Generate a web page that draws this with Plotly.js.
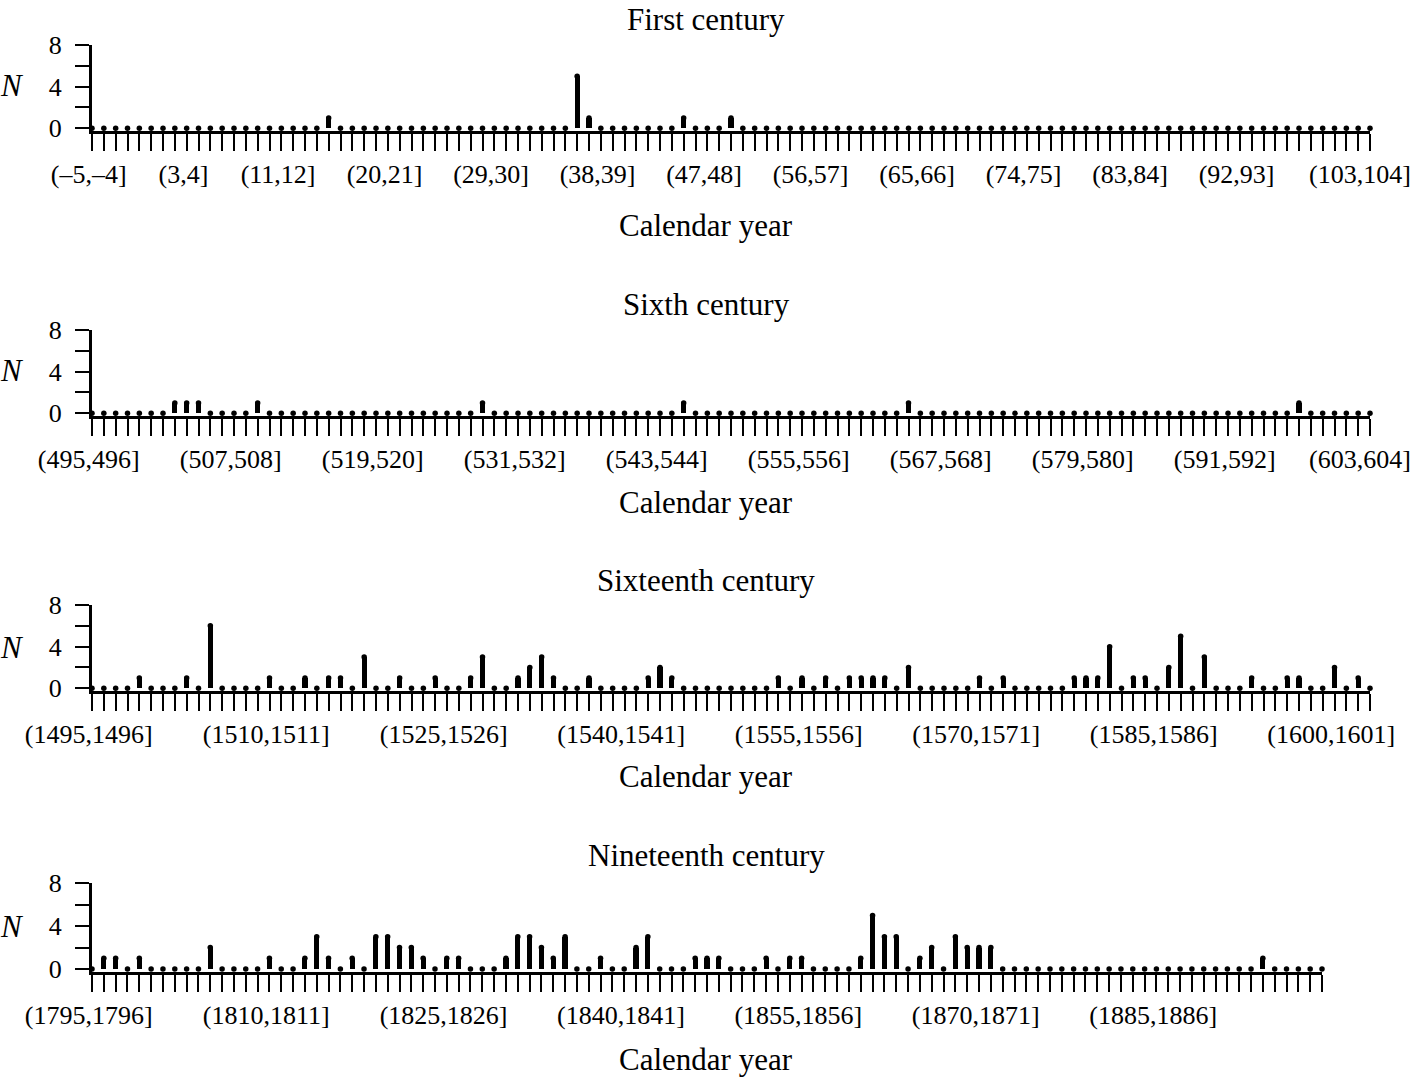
<!DOCTYPE html>
<html><head><meta charset="utf-8">
<script src="https://cdn.plot.ly/plotly-3.0.1.min.js"></script>
<style>html,body{margin:0;padding:0;background:#fff;} #chart{width:1417px;height:1078px;}</style>
</head><body><div id="chart"></div>
<script>
// ---------------- data ----------------
const panelTitles = ['First century', 'Sixth century', 'Sixteenth century', 'Nineteenth century'];
const firstYears = [-5, 495, 1495, 1795];

// counts N per calendar year interval (y, y+1], starting at firstYears[i]
const countsFirst = [
  0,0,0,0,0,0,0,0,0,0,
  0,0,0,0,0,0,0,0,0,0,
  1,0,0,0,0,0,0,0,0,0,
  0,0,0,0,0,0,0,0,0,0,
  0,5,1,0,0,0,0,0,0,0,
  1,0,0,0,1,0,0,0,0,0,
  0,0,0,0,0,0,0,0,0,0,
  0,0,0,0,0,0,0,0,0,0,
  0,0,0,0,0,0,0,0,0,0,
  0,0,0,0,0,0,0,0,0,0,
  0,0,0,0,0,0,0,0,0
];
const countsSixth = [
  0,0,0,0,0,0,0,1,1,1,
  0,0,0,0,1,0,0,0,0,0,
  0,0,0,0,0,0,0,0,0,0,
  0,0,0,1,0,0,0,0,0,0,
  0,0,0,0,0,0,0,0,0,0,
  1,0,0,0,0,0,0,0,0,0,
  0,0,0,0,0,0,0,0,0,1,
  0,0,0,0,0,0,0,0,0,0,
  0,0,0,0,0,0,0,0,0,0,
  0,0,0,0,0,0,0,0,0,0,
  0,0,1,0,0,0,0,0,0
];
const countsSixteenth = [
  0,0,0,0,1,0,0,0,1,0,
  6,0,0,0,0,1,0,0,1,0,
  1,1,0,3,0,0,1,0,0,1,
  0,0,1,3,0,0,1,2,3,1,
  0,0,1,0,0,0,0,1,2,1,
  0,0,0,0,0,0,0,0,1,0,
  1,0,1,0,1,1,1,1,0,2,
  0,0,0,0,0,1,0,1,0,0,
  0,0,0,1,1,1,4,0,1,1,
  0,2,5,0,3,0,0,0,1,0,
  0,1,1,0,0,2,0,1,0
];
const countsNineteenth = [
  0,1,1,0,1,0,0,0,0,0,
  2,0,0,0,0,1,0,0,1,3,
  1,0,1,0,3,3,2,2,1,0,
  1,1,0,0,0,1,3,3,2,1,
  3,0,0,1,0,0,2,3,0,0,
  0,1,1,1,0,0,0,1,0,1,
  1,0,0,0,0,1,5,3,3,0,
  1,2,0,3,2,2,2,0,0,0,
  0,0,0,0,0,0,0,0,0,0,
  0,0,0,0,0,0,0,0,0,1,
  0,0,0,0,0
];
const seriesCounts = [countsFirst, countsSixth, countsSixteenth, countsNineteenth];

// labelled tick positions (interval start years)
const labelsFirst = [-5, 3, 11, 20, 29, 38, 47, 56, 65, 74, 83, 92, 103];
const labelsSixth = [495, 507, 519, 531, 543, 555, 567, 579, 591, 603];
const labelsSixteenth = [1495, 1510, 1525, 1540, 1555, 1570, 1585, 1600];
const labelsNineteenth = [1795, 1810, 1825, 1840, 1855, 1870, 1885];
const seriesLabels = [labelsFirst, labelsSixth, labelsSixteenth, labelsNineteenth];

const yTickVals = [0, 2, 4, 6, 8];
const yTickText = ['0', '', '4', '', '8'];
const xAxisTitle = 'Calendar year';
const yAxisTitle = 'N';

// ---------------- layout geometry (pixels) ----------------
const W = 1417, H = 1078;
const plotLeft = 92;
const boxes = [
  {top: 45,    zero: 128.3, right: 1370, title: 20,  xlab: 225,  n: 86},
  {top: 330,   zero: 413.3, right: 1370, title: 304, xlab: 503,  n: 370},
  {top: 605,   zero: 688.3, right: 1370, title: 580, xlab: 776,  n: 647},
  {top: 883.3, zero: 969,   right: 1322, title: 855, xlab: 1059, n: 926}
];
const yLow = -0.25, yHigh = 8;
const FONT = 'Liberation Serif, Times New Roman, serif';
const TICKSIZE = 26;

function fmt(v) { return String(v).replace('-', '\u2013'); }
function intervalLabel(y) { return '(' + fmt(y) + ',' + fmt(y + 1) + ']'; }

const traces = [];
const layout = {
  width: W, height: H,
  margin: {l: 0, r: 0, t: 0, b: 0},
  paper_bgcolor: '#fff', plot_bgcolor: '#fff',
  showlegend: false,
  bargap: 0,
  annotations: [],
  font: {family: FONT, color: '#000', size: TICKSIZE}
};

seriesCounts.forEach((counts, i) => {
  const k = i + 1;
  const xs = counts.map((_, j) => firstYears[i] + j);
  const lastX = xs[xs.length - 1];
  const b = boxes[i];
  const unit = (b.zero - b.top) / yHigh;
  const bottomPx = b.zero - yLow * unit;
  const xa = 'x' + (k === 1 ? '' : k), ya = 'y' + (k === 1 ? '' : k);

  traces.push({
    type: 'bar', x: xs, y: counts, xaxis: xa, yaxis: ya,
    width: 0.44, marker: {color: '#000', line: {width: 0}},
    cliponaxis: false, hoverinfo: 'x+y'
  });
  traces.push({
    type: 'scatter', mode: 'markers', x: xs, y: counts, xaxis: xa, yaxis: ya,
    marker: {color: '#000', size: 5.5, symbol: 'circle', line: {width: 0}},
    cliponaxis: false, hoverinfo: 'skip'
  });

  const labelSet = new Set(seriesLabels[i]);
  // the label at the very right end is drawn as an annotation pulled inside the page
  const tickText = xs.map(y => (labelSet.has(y) && y !== lastX) ? intervalLabel(y) + '\u00a0' : '');
  if (labelSet.has(lastX)) {
    layout.annotations.push({
      text: intervalLabel(lastX), xref: xa, yref: 'paper',
      x: lastX, y: 1 - (bottomPx + 44) / H, xanchor: 'center', yanchor: 'middle',
      xshift: -10, showarrow: false, font: {family: FONT, size: TICKSIZE, color: '#000'}
    });
  }

  layout['xaxis' + (k === 1 ? '' : k)] = {
    domain: [plotLeft / W, b.right / W],
    anchor: ya,
    range: [xs[0], lastX],
    tickmode: 'array', tickvals: xs, ticktext: tickText,
    ticks: 'outside', ticklen: 17, tickwidth: 2, tickcolor: '#000',
    showline: true, linewidth: 3, linecolor: '#000',
    showgrid: false, zeroline: false,
    tickfont: {family: FONT, size: TICKSIZE, color: '#000'},
    ticklabelstandoff: 1,
    fixedrange: true
  };
  layout['yaxis' + (k === 1 ? '' : k)] = {
    domain: [1 - bottomPx / H, 1 - b.top / H],
    anchor: xa,
    range: [yLow, yHigh],
    tickmode: 'array', tickvals: yTickVals, ticktext: yTickText,
    ticks: 'outside', ticklen: 14, tickwidth: 2, tickcolor: '#000',
    showline: true, linewidth: 3, linecolor: '#000',
    showgrid: false, zeroline: false,
    tickfont: {family: FONT, size: TICKSIZE, color: '#000'},
    ticklabelstandoff: 8,
    fixedrange: true
  };

  layout.annotations.push({
    text: panelTitles[i], xref: 'paper', yref: 'paper',
    x: 706 / W, y: 1 - b.title / H, xanchor: 'center', yanchor: 'middle',
    showarrow: false, font: {family: FONT, size: 31, color: '#000'}
  });
  layout.annotations.push({
    text: xAxisTitle, xref: 'paper', yref: 'paper',
    x: 706 / W, y: 1 - b.xlab / H, xanchor: 'center', yanchor: 'middle',
    showarrow: false, font: {family: FONT, size: 31, color: '#000'}
  });
  layout.annotations.push({
    text: '<i>' + yAxisTitle + '</i>', xref: 'paper', yref: 'paper',
    x: 12 / W, y: 1 - b.n / H, xanchor: 'center', yanchor: 'middle',
    showarrow: false, font: {family: FONT, size: 31, color: '#000'}
  });
});

Plotly.newPlot('chart', traces, layout, {displayModeBar: false, staticPlot: true});
</script>
</body></html>
